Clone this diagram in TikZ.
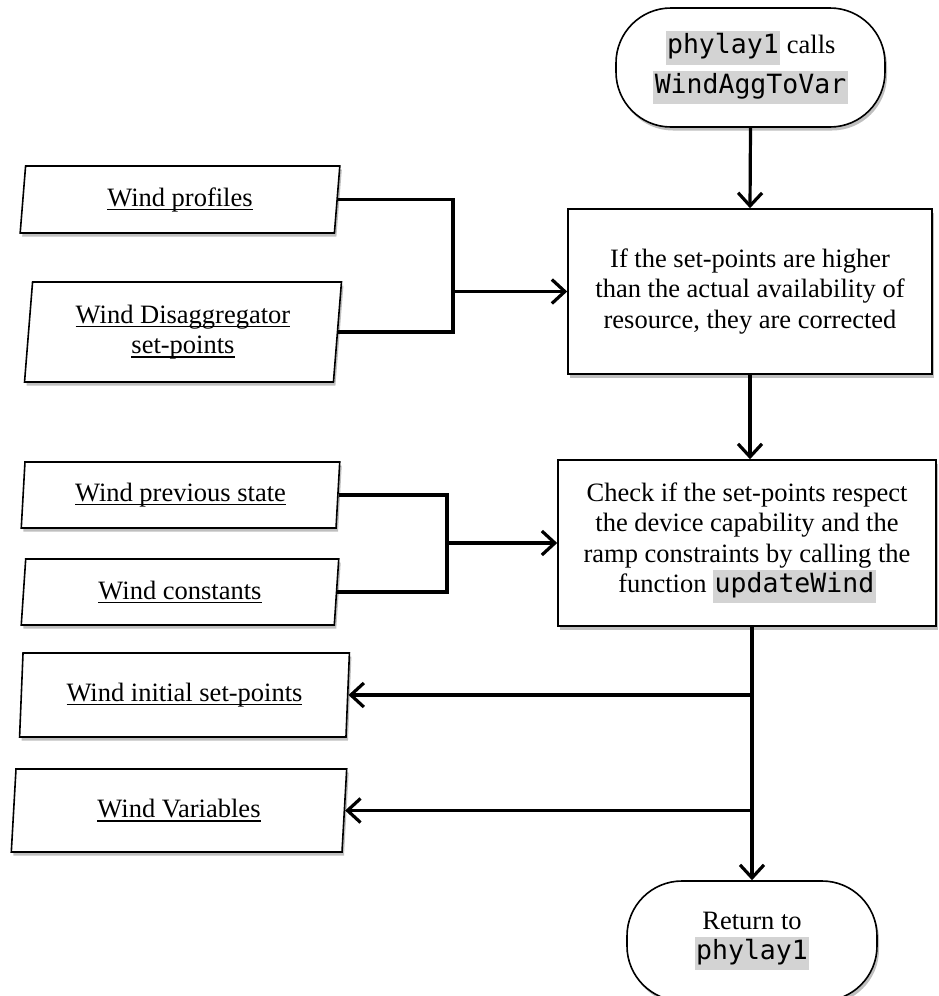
\documentclass[tikz,border=0pt]{standalone}
\usepackage{fontspec}
\setmainfont{Liberation Serif}
\setmonofont{DejaVu Sans Mono}
\usetikzlibrary{shapes.geometric,shadows,arrows.meta,calc}
\definecolor{codegray}{HTML}{D3D3D3}
\newcommand{\codebox}[1]{{\setlength{\fboxsep}{1.5pt}\colorbox{codegray}{\ttfamily\strut #1}}}
\newcommand{\undl}[1]{\setbox0\hbox{#1}\leavevmode\rlap{\rule[-4pt]{\wd0}{1.5pt}}\box0}
\begin{document}
\begin{tikzpicture}[x=1pt,y=-1pt,
  every node/.style={font=\fontsize{26.5}{30.5}\selectfont},
  base/.style={draw, line width=1.6pt, fill=white, align=center, inner sep=0pt,
    drop shadow={shadow xshift=2pt, shadow yshift=-3.5pt, fill=black, opacity=0.25}},
  procbox/.style={base, rectangle},
  iobox/.style={base, trapezium, trapezium left angle=84, trapezium right angle=96,
    trapezium stretches=true},
  term/.style={base, rectangle, rounded corners=55pt},
  conn/.style={line width=3.2pt},
  arr/.style={conn, -{Straight Barb[length=13pt, width=24pt]}}
]
\useasboundingbox (0,0) rectangle (938,996);

% terminals
\node[term, minimum width=269pt, minimum height=119pt] (start) at (750.5,67.5)
  {\codebox{phylay1} calls\\[5pt]\codebox{WindAggToVar}};
\node[term, minimum width=250pt, minimum height=120pt] (end) at (752,941)
  {Return to\\\codebox{phylay1}};

% process boxes
\node[procbox, minimum width=364pt, minimum height=165pt] (box1) at (750,291.5)
  {If the set-points are higher\\than the actual availability of\\resource, they are corrected};
\node[procbox, minimum width=378pt, minimum height=166pt] (box2) at (747,543)
  {Check if the set-points respect\\the device capability and the\\ramp constraints by calling the\\function \codebox{updateWind}};

% input/output parallelograms
\node[iobox, minimum width=320pt, minimum height=67pt] (p1) at (180,199.5)
  {\undl{Wind profiles}};
\node[iobox, minimum width=318pt, minimum height=100pt] (p2) at (183,332)
  {\undl{Wind Disaggregator}\\\undl{set-points}};
\node[iobox, minimum width=319pt, minimum height=66pt] (p3) at (180.5,495)
  {\undl{Wind previous state}};
\node[iobox, minimum width=318pt, minimum height=66pt] (p4) at (180,592)
  {\undl{Wind constants}};
\node[iobox, minimum width=331pt, minimum height=84pt] (p5) at (184.5,695)
  {\undl{Wind initial set-points}};
\node[iobox, minimum width=336pt, minimum height=83pt] (p6) at (179,810.5)
  {\undl{Wind Variables}};

% junctions
\coordinate (j1) at (453,291.5);
\coordinate (j2) at (447,543);
\coordinate (b0) at (box2.south -| end.north);
\coordinate (b1) at (end.north |- p5.east);
\coordinate (b2) at (end.north |- p6.east);

% connectors
\draw[arr] (start.south) -- (box1.north);
\draw[conn] (p1.east) -| (j1);
\draw[conn] (p2.east) -| (j1);
\draw[arr] (j1) -- (box1.west);
\draw[arr] (box1.south) -- (box1.south |- box2.north);
\draw[conn] (p3.east) -| (j2);
\draw[conn] (p4.east) -| (j2);
\draw[arr] (j2) -- (box2.west);
\draw[arr] (b0) -- (end.north);
\draw[arr] (b1) -- (p5.east);
\draw[arr] (b2) -- (p6.east);
\end{tikzpicture}
\end{document}
